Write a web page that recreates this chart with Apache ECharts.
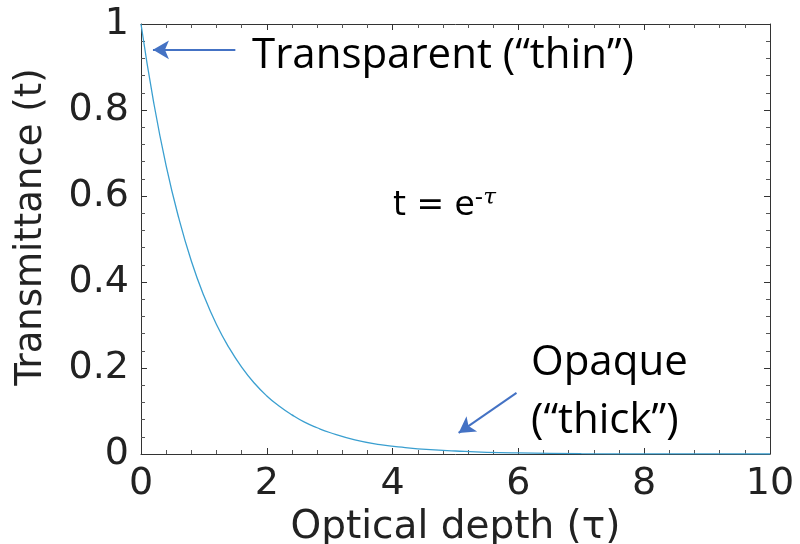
<!DOCTYPE html>
<html><head><meta charset="utf-8">
<script src="https://cdn.jsdelivr.net/npm/echarts@6/dist/echarts.min.js"></script>
<style>html,body{margin:0;padding:0;background:#fff}#c{width:800px;height:544px}</style>
</head><body><div id="c"></div>
<script>
// Optical depth (tau) values
var tau = [0,0.2,0.4,0.6,0.8,1.0,1.2,1.4,1.6,1.8,2.0,2.2,2.4,2.6,2.8,3.0,3.4,3.8,4.2,4.6,5.0,5.5,6.0,7.0,8.0,9.0,10.0];
// Transmittance values
var trans = [1,0.819,0.670,0.549,0.449,0.368,0.301,0.247,0.202,0.165,0.135,0.111,0.091,0.074,0.061,0.050,0.033,0.022,0.015,0.010,0.007,0.004,0.0025,0.001,0.0003,0.0001,0.00005];
var xTicks = [0,2,4,6,8,10];
var yTicks = [0,0.2,0.4,0.6,0.8,1];
var xTitle = 'Optical depth (τ)';
var yTitle = 'Transmittance (t)';
var noteThin = 'Transparent (“thin”)';
var noteThick = ['Opaque','(“thick”)'];
// arrow endpoints in data space
var arrowThin = [[1.5,0.94],[0.19,0.94]];
var arrowThick = [[5.97,0.142],[5.05,0.049]];

var pts = tau.map(function(t,i){return [t,trans[i]];});
var chart = echarts.init(document.getElementById('c'));
var axisCommon = {
  axisLine:{show:true,onZero:false,lineStyle:{color:'#333',width:1}},
  axisTick:{show:true,inside:true,length:6,lineStyle:{color:'#333'}},
  minorTick:{show:true,splitNumber:5,length:4,lineStyle:{color:'#555'}},
  splitLine:{show:false}
};
var labelFont = {fontFamily:'DejaVu Sans',fontSize:38,color:'#222'};
chart.setOption({
  animation:false,
  backgroundColor:'#fff',
  grid:{left:141,right:30,top:24,bottom:90,containLabel:false,outerBoundsMode:'none'},
  xAxis:[
    Object.assign({type:'value',min:0,max:10,interval:2,position:'bottom',
      name:xTitle,nameLocation:'middle',nameGap:52,
      nameTextStyle:{fontFamily:'DejaVu Sans',fontSize:39,color:'#222'},
      axisLabel:Object.assign({margin:11,formatter:function(v){return xTicks.indexOf(v)>=0?String(v):'';}},labelFont)},axisCommon),
    Object.assign({type:'value',min:0,max:10,interval:2,position:'top',axisLabel:{show:false}},axisCommon)
  ],
  yAxis:[
    Object.assign({type:'value',min:0,max:1,interval:0.2,position:'left',
      name:yTitle,nameLocation:'middle',nameGap:91,nameRotate:90,
      nameTextStyle:{fontFamily:'DejaVu Sans',fontSize:37,color:'#222',padding:[0,0,0,24]},
      axisLabel:Object.assign({margin:12,formatter:function(v){var r=Math.round(v*10)/10;return yTicks.indexOf(r)>=0?String(r):'';}},labelFont)},axisCommon),
    Object.assign({type:'value',min:0,max:1,interval:0.2,position:'right',axisLabel:{show:false}},axisCommon)
  ],
  series:[{
    type:'line',data:pts,smooth:true,showSymbol:false,
    lineStyle:{color:'#3a9fd0',width:1.3},
    markLine:{
      silent:true,
      symbol:['none','arrow'],symbolSize:[14,16],
      lineStyle:{color:'#4472c4',width:2,type:'solid'},
      label:{show:false},
      data:[
        [{coord:arrowThin[0]},{coord:arrowThin[1]}],
        [{coord:arrowThick[0]},{coord:arrowThick[1]}]
      ]
    }
  }],
  graphic:[
    {type:'text',left:252,top:35,style:{text:noteThin,font:'42px "Open Sans"',fill:'#000'}},
    {type:'text',left:531,top:334,style:{text:noteThick.join('\n'),font:'42px "Open Sans"',fill:'#000',lineHeight:58}},
    {type:'text',left:393,top:187,style:{
      rich:{a:{fontFamily:'DejaVu Sans',fontSize:33,color:'#000'},
            s:{fontFamily:'DejaVu Sans',fontSize:23,color:'#000',padding:[0,0,16,0]},
            g:{fontFamily:'DejaVu Serif',fontStyle:'italic',fontSize:23,color:'#000',padding:[0,0,16,0]}},
      text:'{a|t = e}{s|-}{g|τ}'}}
  ]
});
</script></body></html>
